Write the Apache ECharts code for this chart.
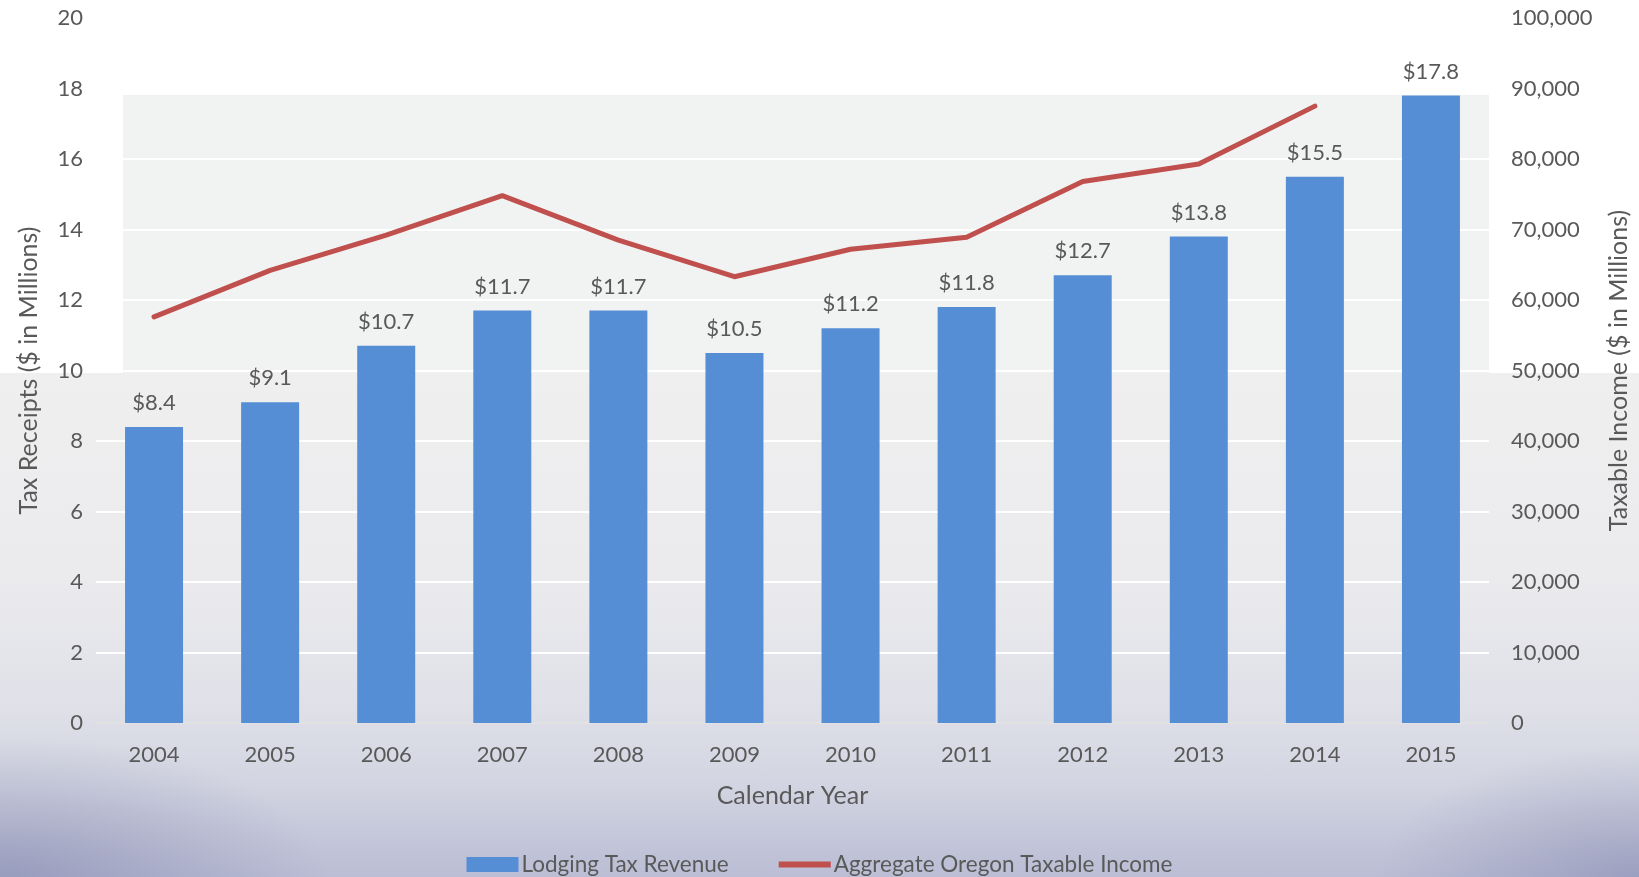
<!DOCTYPE html>
<html>
<head>
<meta charset="utf-8">
<script src="https://cdn.jsdelivr.net/npm/echarts@6/dist/echarts.min.js"></script>
<style>
  html, body { margin: 0; padding: 0; width: 1639px; height: 877px; overflow: hidden; background: #ffffff; }
  #wrap { position: relative; width: 1639px; height: 877px; }
  #plotband { position: absolute; left: 123px; top: 95px; width: 1366px; height: 278px; background: #f1f2f2; }
  #lower { position: absolute; left: 0; top: 373px; width: 1639px; height: 504px;
    background: linear-gradient(to bottom, #efefef 0%, #ebebee 40%, #e0e1e8 65%, #d2d4e1 82%, #babdd4 100%); }
  #shade { position: absolute; left: 0; top: 373px; width: 1639px; height: 504px;
    background: radial-gradient(ellipse 20% 28% at 0% 100%, rgba(110,115,160,0.45), rgba(110,115,160,0) 100%),
                radial-gradient(ellipse 16% 26% at 100% 100%, rgba(110,115,160,0.4), rgba(110,115,160,0) 100%); }
  #chart { position: absolute; left: 0; top: 0; width: 1639px; height: 877px; }
</style>
</head>
<body>
<div id="wrap">
  <div id="plotband"></div>
  <div id="lower"></div>
  <div id="shade"></div>
  <div id="chart"></div>
</div>
<script>
// Calendar years on the category axis
const years = ['2004', '2005', '2006', '2007', '2008', '2009', '2010', '2011', '2012', '2013', '2014', '2015'];
// Lodging tax revenue, $ millions (left axis)
const lodgingTax = [8.4, 9.1, 10.7, 11.7, 11.7, 10.5, 11.2, 11.8, 12.7, 13.8, 15.5, 17.8];
// Aggregate Oregon taxable income, $ millions (right axis); no figure yet for 2015
const oregonIncome = [57600, 64200, 69200, 74800, 68500, 63300, 67200, 68900, 76800, 79300, 87500, null];

const FONT = 'Lato';
const TEXT = '#595959';

// Legend icon for the line: a thick bar centred in a 52x15 box
const LINE_ICON = 'path://M0,0 M52,15 M0,4.5 L52,4.5 L52,10.5 L0,10.5 Z';

const chart = echarts.init(document.getElementById('chart'), null, { renderer: 'canvas' });

chart.setOption({
  backgroundColor: 'transparent',
  animation: false,
  textStyle: { fontFamily: FONT, color: TEXT },
  grid: { left: 96, right: 150, top: 18, bottom: 154, containLabel: false },
  legend: {
    top: 848,
    left: 'center',
    itemGap: 50,
    itemWidth: 52,
    itemHeight: 15,
    textStyle: { fontFamily: FONT, fontSize: 22.5, color: TEXT, padding: [0, 0, 0, -2] },
    data: [
      { name: 'Lodging Tax Revenue', icon: 'rect' },
      { name: 'Aggregate Oregon Taxable Income', icon: LINE_ICON, itemStyle: { color: '#c0504d' } }
    ]
  },
  xAxis: {
    type: 'category',
    data: years,
    name: 'Calendar Year',
    nameLocation: 'middle',
    nameGap: 60,
    nameTextStyle: { fontFamily: FONT, fontSize: 25, color: TEXT },
    axisLine: { lineStyle: { color: '#d9d9d9', width: 1.5 } },
    axisTick: { show: false },
    axisLabel: { fontFamily: FONT, fontSize: 22, color: TEXT, margin: 21 }
  },
  yAxis: [
    {
      type: 'value',
      min: 0, max: 20, interval: 2,
      name: 'Tax Receipts ($ in Millions)',
      nameLocation: 'middle',
      nameGap: 55,
      nameTextStyle: { fontFamily: FONT, fontSize: 25, color: TEXT },
      axisLine: { show: false },
      axisTick: { show: false },
      axisLabel: { fontFamily: FONT, fontSize: 22, color: TEXT, margin: 13 },
      splitLine: { lineStyle: { color: '#ffffff', width: 2 } }
    },
    {
      type: 'value',
      min: 0, max: 100000, interval: 10000,
      name: 'Taxable Income ($ in Millions)',
      nameLocation: 'middle',
      nameRotate: 90,
      nameGap: 117,
      nameTextStyle: { fontFamily: FONT, fontSize: 25, color: TEXT },
      axisLine: { show: false },
      axisTick: { show: false },
      splitLine: { show: false },
      axisLabel: {
        fontFamily: FONT, fontSize: 22, color: TEXT, margin: 22,
        formatter: v => v.toLocaleString('en-US')
      }
    }
  ],
  series: [
    {
      name: 'Lodging Tax Revenue',
      type: 'bar',
      yAxisIndex: 0,
      data: lodgingTax,
      barWidth: 58,
      itemStyle: { color: '#558ed5' },
      label: {
        show: true,
        position: 'top',
        distance: 13,
        fontFamily: FONT,
        fontSize: 22,
        color: TEXT,
        formatter: p => '$' + p.value.toFixed(1)
      }
    },
    {
      name: 'Aggregate Oregon Taxable Income',
      type: 'line',
      yAxisIndex: 1,
      data: oregonIncome,
      symbol: 'none',
      lineStyle: { color: '#c0504d', width: 5, cap: 'round', join: 'round' },
      itemStyle: { color: '#c0504d' },
      z: 3
    }
  ]
});
</script>
</body>
</html>
